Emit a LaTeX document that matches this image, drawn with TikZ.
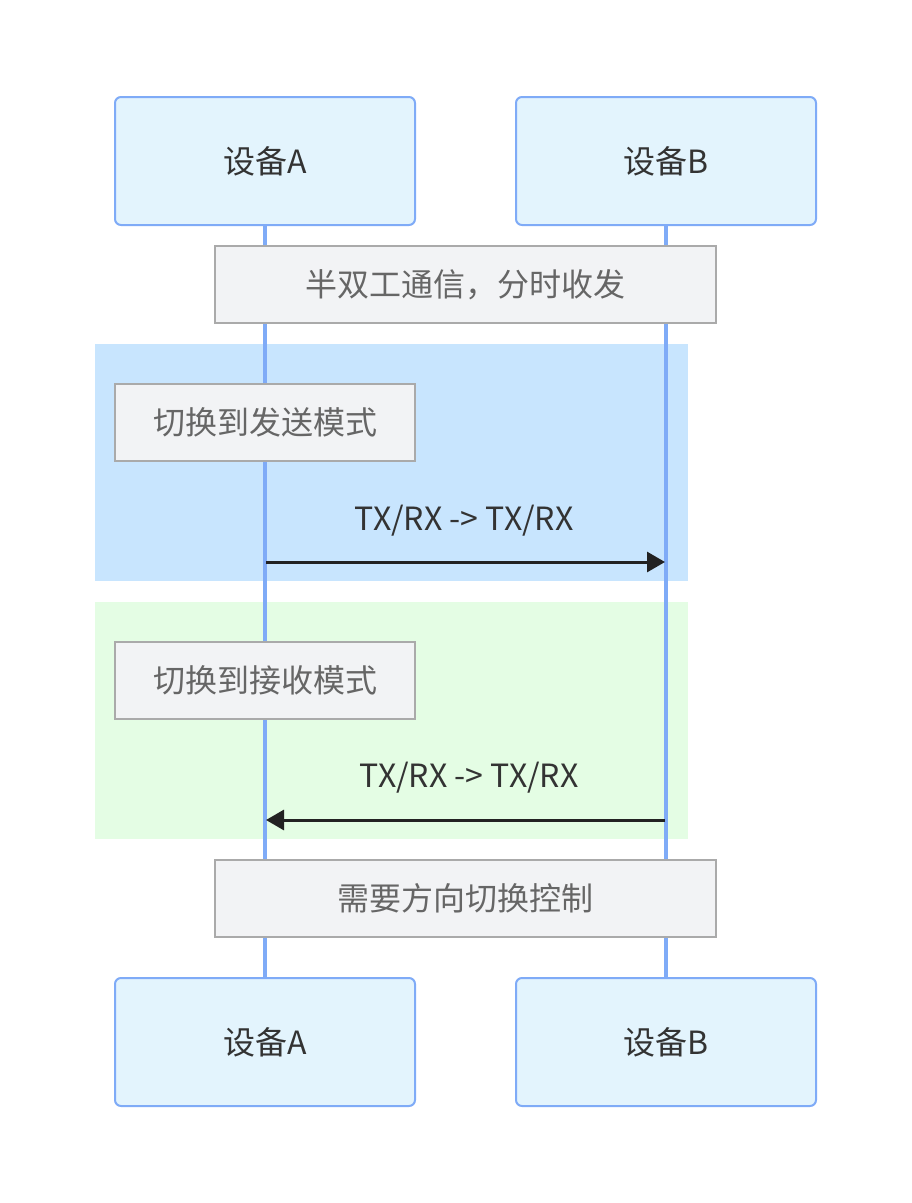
\documentclass[tikz,border=0pt]{standalone}
\usepackage{fontspec}
\setmainfont{Noto Sans CJK SC}
\usetikzlibrary{arrows.meta, positioning, calc}
\definecolor{actorfill}{HTML}{E3F4FD}
\definecolor{actorline}{HTML}{7FABF7}
\definecolor{notefill}{HTML}{F2F3F5}
\definecolor{noteline}{HTML}{AAAAAA}
\definecolor{notetext}{HTML}{666666}
\definecolor{sendbg}{HTML}{C8E5FE}
\definecolor{recvbg}{HTML}{E4FDE4}
\definecolor{msgline}{HTML}{222222}

\begin{document}
\begin{tikzpicture}[
    x=1pt, y=-1pt,
    font=\fontsize{32pt}{38pt}\selectfont,
    actor/.style={
        draw=actorline,
        fill=actorfill,
        line width=2pt,
        rounded corners=6pt,
        minimum width=300pt,
        minimum height=128pt,
        inner sep=0pt,
        text=black!80,
        align=center
    },
    note/.style={
        draw=noteline,
        fill=notefill,
        line width=2pt,
        minimum height=77pt,
        inner sep=0pt,
        text=notetext,
        align=center
    },
    lifeline/.style={actorline, line width=4pt},
    msg/.style={msgline, line width=3pt, -{Triangle[length=18pt,width=20pt]}},
    msglabel/.style={text=black!80, inner sep=0pt}
]
\useasboundingbox (0,0) rectangle (911,1203);

% Background blocks
\fill[sendbg] (95,344) rectangle (688,581);
\fill[recvbg] (95,602) rectangle (688,839);

% Actors
\node[actor] (topA) at (265,161) {设备A};
\node[actor] (topB) at (666,161) {设备B};
\node[actor] (botA) at (265,1042) {设备A};
\node[actor] (botB) at (666,1042) {设备B};

% Lifelines
\draw[lifeline] (topA.south) -- (botA.north);
\draw[lifeline] (topB.south) -- (botB.north);

% Notes
\node[note, minimum width=501pt] (half) at (465.5,284.5) {半双工通信，分时收发};
\node[note, minimum width=300pt] (tosend) at (265,422) {切换到发送模式};
\node[note, minimum width=300pt] (torecv) at (265,680.5) {切换到接收模式};
\node[note, minimum width=501pt] (ctrl) at (465.5,898) {需要方向切换控制};

% Messages
\coordinate (sendA) at (266,562);
\coordinate (sendB) at (665,562);
\coordinate (recvA) at (266,820);
\coordinate (recvB) at (665,820);
\draw[msg] (sendA) -- (sendB);
\node[msglabel] (sendlbl) at (464,521) {TX/RX -> TX/RX};
\draw[msg] (recvB) -- (recvA);
\node[msglabel] (recvlbl) at (469,778) {TX/RX -> TX/RX};

\end{tikzpicture}
\end{document}
